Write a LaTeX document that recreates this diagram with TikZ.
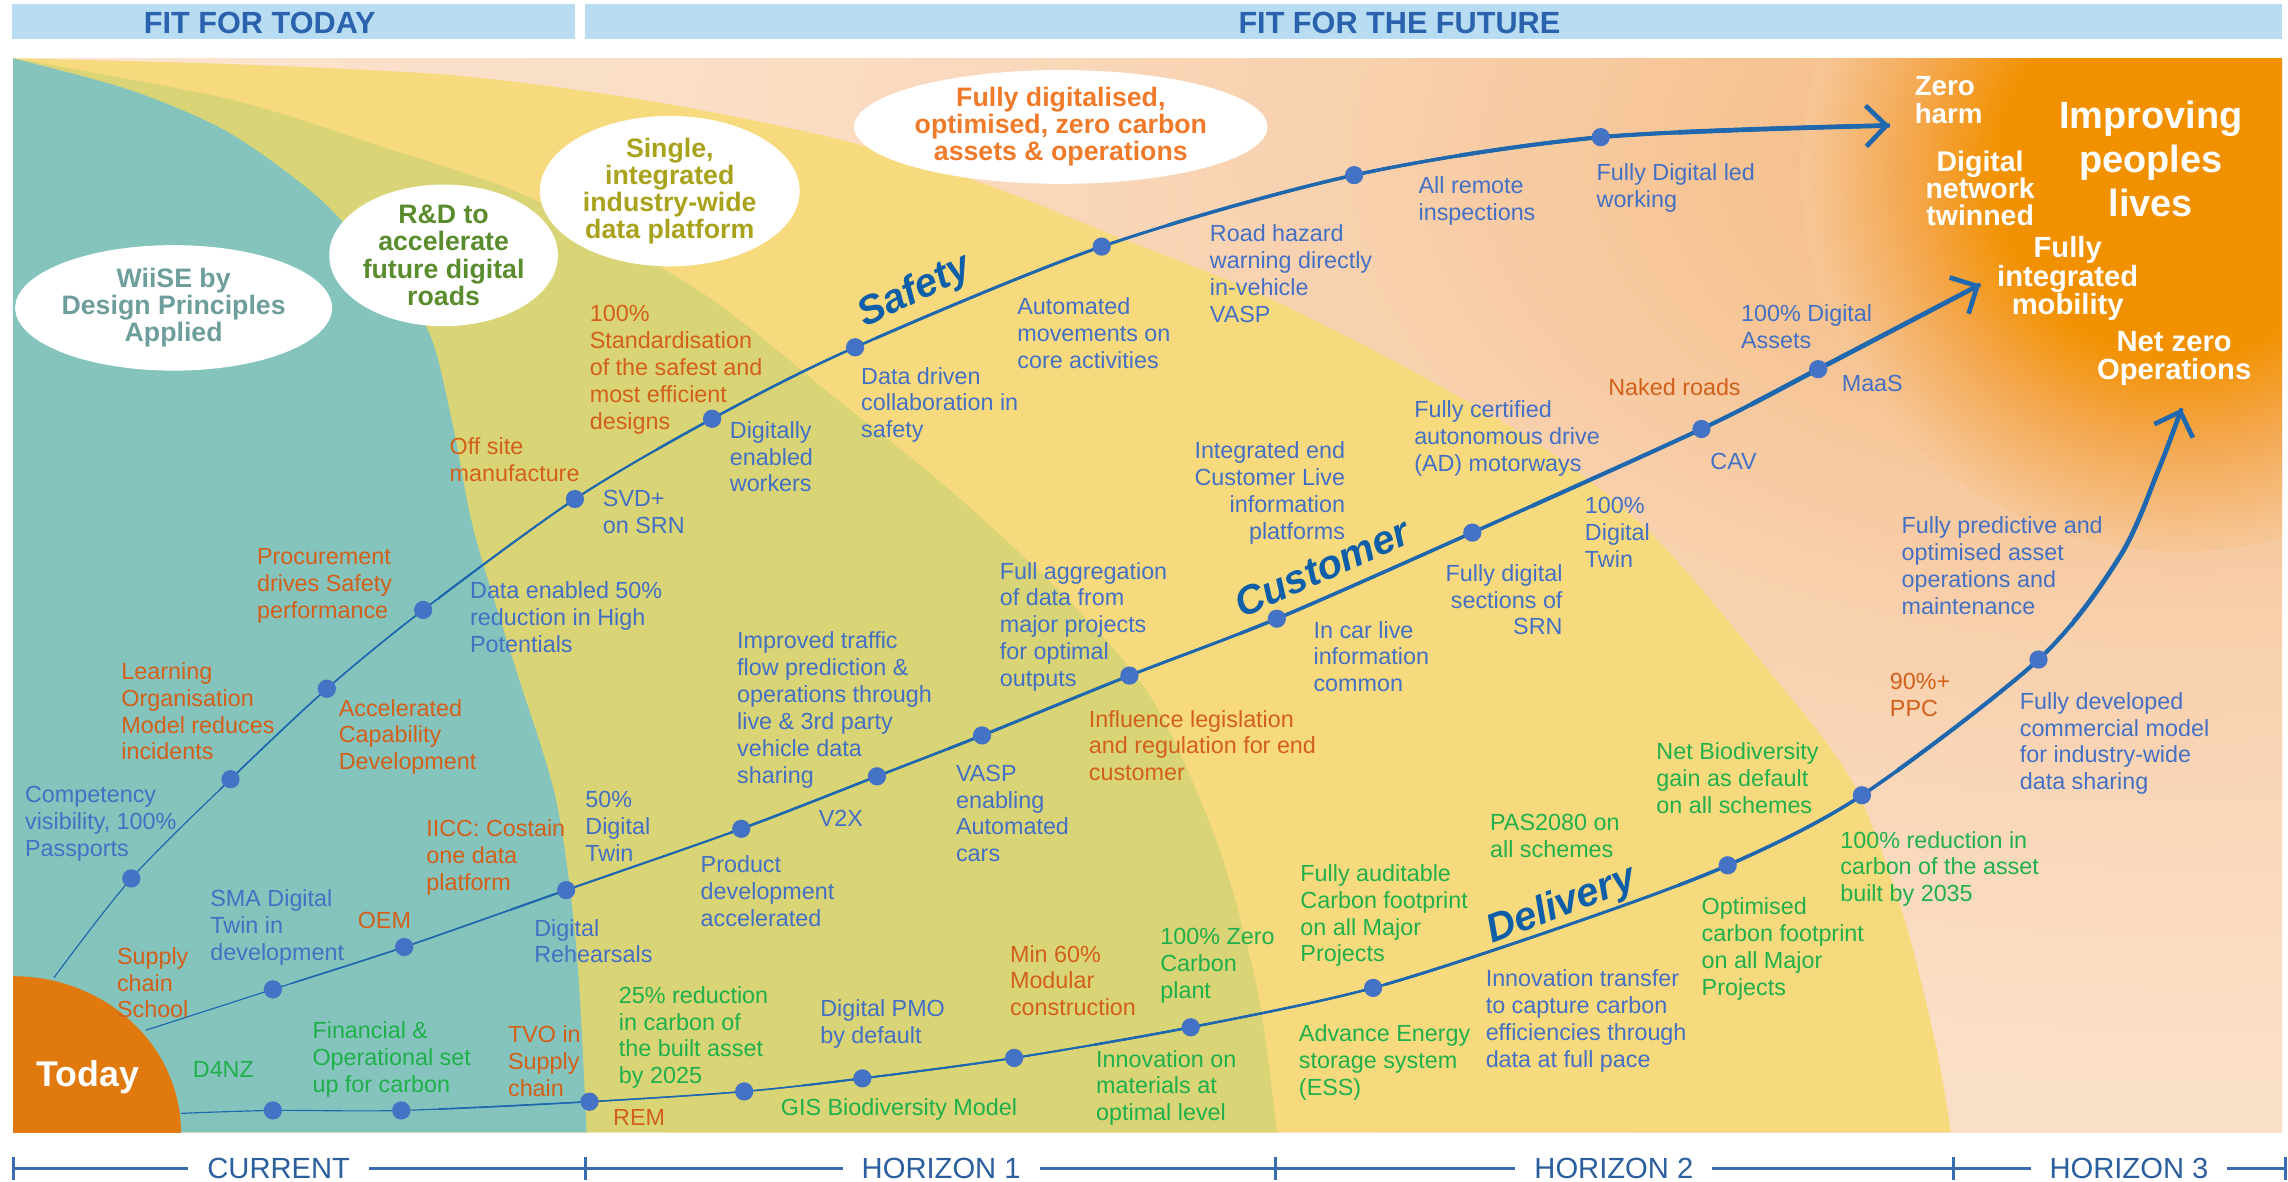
\documentclass[tikz,border=0pt]{standalone}
\usepackage{fontspec}
\setmainfont{Liberation Sans}
\usetikzlibrary{arrows.meta,shapes.geometric}
\definecolor{hdrbar}{HTML}{B8DDF2}
\definecolor{hdrtext}{HTML}{2B62AE}
\definecolor{cteal}{HTML}{84C4BC}
\definecolor{colive}{HTML}{D9D476}
\definecolor{cyellow}{HTML}{F8DA7E}
\definecolor{corange}{HTML}{F29100}
\definecolor{coreB}{HTML}{F4A850}
\definecolor{coreE}{HTML}{F6C594}
\definecolor{gA}{HTML}{F4B072}
\definecolor{gB}{HTML}{F6C290}
\definecolor{gC}{HTML}{F8D0AC}
\definecolor{gD}{HTML}{FADCC2}
\definecolor{gE}{HTML}{FBE5D3}
\definecolor{gF}{HTML}{FCEBDE}
\definecolor{ctoday}{HTML}{E07A0F}
\definecolor{lblue}{HTML}{4470C4}
\definecolor{lorange}{HTML}{D2601A}
\definecolor{lgreen}{HTML}{20B04B}
\definecolor{curvec}{HTML}{1F68AE}
\definecolor{dotc}{HTML}{4472C4}
\definecolor{streamc}{HTML}{0E5EA8}
\definecolor{tline}{HTML}{3A6DB0}
\definecolor{tlabel}{HTML}{2C5F9E}
\definecolor{wiise}{HTML}{6E9E9C}
\definecolor{rdg}{HTML}{5A8C2E}
\definecolor{singl}{HTML}{A8A21C}
\definecolor{fdo}{HTML}{EE7A2A}
% in TikZ, 25bp of a radial shading = the radius of the shaded path
\pgfdeclareradialshading{glow}{\pgfpoint{0bp}{0bp}}{color(0bp)=(gA); color(4.5bp)=(gB); color(9bp)=(gC); color(15bp)=(gD); color(24bp)=(gE); color(37bp)=(gF); color(50bp)=(gF)}
\pgfdeclareradialshading{coreglow}{\pgfpoint{0bp}{0bp}}{color(0bp)=(corange); color(12bp)=(corange); color(18bp)=(coreB); color(24.5bp)=(coreE); color(50bp)=(coreE)}
\newcommand\safetyline{plot[smooth] coordinates {(s0) (s1) (s2) (s3) (s4) (s5) (s6) (s7) (s8) (s9) (s10) (send)}}
\newcommand\customerline{plot[smooth] coordinates {(c0) (c1) (c2) (c3) (c4) (c5) (c6) (c7) (c8) (c9) (c10) (c11) (cend)}}
\newcommand\deliveryline{plot[smooth] coordinates {(d0) (d1) (d2) (d3) (d4) (d5) (d6) (d7) (d8) (dm) (d9) (d10) (d11) (dma) (dmb) (dend)}}
\begin{document}
\begin{tikzpicture}[x=1pt,y=-1pt,
  lbl/.style={inner sep=0pt, align=left, anchor=west, font=\fontsize{16}{18.4}\selectfont},
  lb/.style={lbl, text=lblue},
  lbr/.style={lb, align=right, anchor=east},
  lo/.style={lbl, text=lorange},
  lg/.style={lbl, text=lgreen},
  dot/.style={circle, fill=dotc, inner sep=0pt, minimum size=12.5pt},
  bubble/.style={ellipse, fill=white, inner sep=0pt, align=center, font=\bfseries\fontsize{18.3}{18.6}\selectfont},
  wt/.style={text=white, inner sep=0pt, align=center},
  stream/.style={text=streamc, inner sep=0pt, font=\bfseries\itshape\fontsize{27.5}{27.5}\selectfont},
  tlab/.style={fill=white, text=tlabel, inner xsep=13pt, inner ysep=2pt, font=\fontsize{20}{20}\selectfont},
  hdr/.style={text=hdrtext, inner sep=0pt, font=\bfseries\fontsize{21}{21}\selectfont},
  curveline/.style={draw=curvec, line cap=butt}
]
\useasboundingbox (0,0) rectangle (1568,810);
\fill[white] (0,0) rectangle (1568,810);
% header bars
\node[fill=hdrbar, minimum width=386pt, minimum height=24pt, inner sep=0pt] (barA) at (201,15) {};
\node[fill=hdrbar, minimum width=1163pt, minimum height=24pt, inner sep=0pt] (barB) at (982.5,15) {};
\node[hdr] (hA) at (178,16) {FIT FOR TODAY};
\node[hdr] (hB) at (959,16) {FIT FOR THE FUTURE};
% panel
\begin{scope}
\clip (9,40) rectangle (1564,776);
\fill[gF] (9,40) rectangle (1564,776);
\shade[shading=glow] (1500,110) ellipse [x radius=1550pt, y radius=900pt];
\shade[shading=coreglow] (1494,118) circle [radius=260pt];
\fill[cyellow] (9,776) -- plot[smooth] coordinates {(9,40) (160,44) (315,52) (450,70) (577,96) (680,128) (760,160) (860,200) (960,250) (1055,305) (1131,365) (1210,457) (1269,535) (1304,626) (1327,718) (1337,776)} -- cycle;
\fill[colive] (9,776) -- plot[smooth] coordinates {(9,40) (157,68) (260,100) (362,135) (480,200) (574,274) (650,335) (732,411) (790,480) (835,580) (862,680) (875,776)} -- cycle;
\fill[cteal] (9,776) -- plot[smooth] coordinates {(9,40) (90,62) (157,91) (220,137) (262,185) (294,228) (310,290) (325,365) (353,457) (381,548) (395,650) (402,776)} -- cycle;
\fill[ctoday] (9,776) ellipse [x radius=115pt, y radius=107pt];
\end{scope}
\node[font=\bfseries\fontsize{24.5}{25}\selectfont, text=white, inner sep=0pt] (today) at (60,738) {Today};
% bubbles
\node[bubble, minimum width=167pt, minimum height=86pt, text=wiise] (bwiise) at (119,211) {WiiSE by\\Design Principles\\Applied};
\node[bubble, minimum width=126pt, minimum height=80pt, text=rdg] (brd) at (304,175) {R\&D to\\accelerate\\future digital\\roads};
\node[bubble, minimum width=178pt, minimum height=86pt, text=singl] (bsingle) at (459,131) {Single,\\integrated\\industry-wide\\data platform};
\node[bubble, minimum width=238pt, minimum height=78pt, text=fdo] (bfully) at (727,87) {Fully digitalised,\\optimised, zero carbon\\assets \& operations};
% right-hand outcomes
\node[wt, align=left, anchor=west, font=\bfseries\fontsize{19}{19}\selectfont] (zh) at (1312,68.5) {Zero\\harm};
\node[wt, font=\bfseries\fontsize{26}{30}\selectfont] (ipl) at (1474,109) {Improving\\peoples\\lives};
\node[wt, font=\bfseries\fontsize{19.5}{18.3}\selectfont] (dnt) at (1357,129) {Digital\\network\\twinned};
\node[wt, font=\bfseries\fontsize{20}{18.6}\selectfont] (fim) at (1417,191) {Fully\\integrated\\mobility};
\node[wt, font=\bfseries\fontsize{20}{19}\selectfont] (nzo) at (1490,245.5) {Net zero\\Operations};
% curve coordinates
\coordinate (s0) at (37,670); \coordinate (s1) at (90,602); \coordinate (s2) at (158,534);
\coordinate (s3) at (224,472); \coordinate (s4) at (290,418); \coordinate (s5) at (394,342);
\coordinate (s6) at (488,287); \coordinate (s7) at (586,238); \coordinate (s8) at (755,169);
\coordinate (s9) at (928,120); \coordinate (s10) at (1097,94); \coordinate (send) at (1295,86);
\coordinate (c0) at (100,706); \coordinate (c1) at (187,678); \coordinate (c2) at (277,649);
\coordinate (c3) at (388,610); \coordinate (c4) at (508,568); \coordinate (c5) at (601,532);
\coordinate (c6) at (673,504); \coordinate (c7) at (774,463); \coordinate (c8) at (875,424);
\coordinate (c9) at (1009,365); \coordinate (c10) at (1166,294); \coordinate (c11) at (1246,253);
\coordinate (cend) at (1357,195);
\coordinate (d0) at (124,763); \coordinate (d1) at (187,761); \coordinate (d2) at (275,761);
\coordinate (d3) at (404,755); \coordinate (d4) at (510,748); \coordinate (d5) at (591,739);
\coordinate (d6) at (695,725); \coordinate (d7) at (816,704); \coordinate (d8) at (941,677);
\coordinate (dm) at (1077,633); \coordinate (d9) at (1184,593); \coordinate (d10) at (1276,545);
\coordinate (d11) at (1397,452); \coordinate (dma) at (1453,381); \coordinate (dmb) at (1480,320);
\coordinate (dend) at (1495,280);
% tapered curves
\foreach \xa/\w in {0/0.8,150/1.1,300/1.4,450/1.7,600/2.0,800/2.4,1000/2.8}{
  \begin{scope}\clip (\xa,0) rectangle (1568,810); \draw[curveline, line width=\w pt] \safetyline; \end{scope}}
\begin{scope}\clip (1150,0) rectangle (1568,810);
\draw[curveline, line width=3.2pt, -{Straight Barb[length=14pt,width=28pt]}] \safetyline;
\end{scope}
\foreach \xa/\w in {0/0.8,200/1.1,350/1.4,500/1.7,650/2.0,850/2.4,1050/2.8}{
  \begin{scope}\clip (\xa,0) rectangle (1568,810); \draw[curveline, line width=\w pt] \customerline; \end{scope}}
\begin{scope}\clip (1200,0) rectangle (1568,810);
\draw[curveline, line width=3.2pt, -{Straight Barb[length=14pt,width=28pt]}] \customerline;
\end{scope}
\foreach \xa/\w in {0/0.8,300/1.1,550/1.4,750/1.7,950/2.0,1150/2.4,1300/2.8}{
  \begin{scope}\clip (\xa,0) rectangle (1568,810); \draw[curveline, line width=\w pt] \deliveryline; \end{scope}}
\begin{scope}\clip (1420,0) rectangle (1568,810);
\draw[curveline, line width=3.2pt, -{Straight Barb[length=14pt,width=28pt]}] \deliveryline;
\end{scope}
% dots
\foreach \p in {s1,s2,s3,s4,s5,s6,s7,s8,s9,s10,c1,c2,c3,c4,c5,c6,c7,c8,c9,c10,c11,d1,d2,d3,d4,d5,d6,d7,d8,d9,d10,d11}{
  \node[dot] (dot-\p) at (\p) {};}
% stream labels
\node[stream, rotate=26] (tsafety) at (627,200) {Safety};
\node[stream, rotate=24] (tcustomer) at (906,389) {Customer};
\node[stream, rotate=21] (tdelivery) at (1070,621) {Delivery};
% safety labels
\node[lb] (l01) at (17,564.5) {Competency\\visibility, 100\%\\Passports};
\node[lo] (l02) at (83,487.5) {Learning\\Organisation\\Model reduces\\incidents};
\node[lo] (l03) at (232,505) {Accelerated\\Capability\\Development};
\node[lo] (l04) at (176,401.5) {Procurement\\drives Safety\\performance};
\node[lb] (l05) at (322,423) {Data enabled 50\%\\reduction in High\\Potentials};
\node[lo] (l06) at (308,315) {Off site\\manufacture};
\node[lb] (l07) at (413,351) {SVD+\\on SRN};
\node[lo] (l08) at (404,253.5) {100\%\\Standardisation\\of the safest and\\most efficient\\designs};
\node[lb] (l09) at (500,313) {Digitally\\enabled\\workers};
\node[lb] (l10) at (590,277.5) {Data driven\\collaboration in\\safety};
\node[lb] (l11) at (697,228.5) {Automated\\movements on\\core activities};
\node[lb] (l12) at (829,187.5) {Road hazard\\warning directly\\in-vehicle\\VASP};
\node[lb] (l13) at (972,138) {All remote\\inspections};
\node[lb] (l14) at (1094,129) {Fully Digital led\\working};
% customer labels
\node[lo] (l15) at (80,673.5) {Supply\\chain\\School};
\node[lb] (l16) at (144,635.5) {SMA Digital\\Twin in\\development};
\node[lo] (l17) at (245,631) {OEM};
\node[lo] (l18) at (292,587.5) {IICC: Costain\\one data\\platform};
\node[lb] (l19) at (401,566.5) {50\%\\Digital\\Twin};
\node[lb] (l20) at (366,645) {Digital\\Rehearsals};
\node[lb] (l21) at (480,610.5) {Product\\development\\accelerated};
\node[lb] (l22) at (505,486.5) {Improved traffic\\flow prediction \&\\operations through\\live \& 3rd party\\vehicle data\\sharing};
\node[lb] (l23) at (561,561) {V2X};
\node[lb] (l24) at (655,557.5) {VASP\\enabling\\Automated\\cars};
\node[lb] (l25) at (685,429.5) {Full aggregation\\of data from\\major projects\\for optimal\\outputs};
\node[lo] (l26) at (746,511) {Influence legislation\\and regulation for end\\customer};
\node[lb] (l27) at (900,450) {In car live\\information\\common};
\node[lbr] (l28) at (922,338) {Integrated end\\Customer Live\\information\\platforms};
\node[lb] (l29) at (969,300.5) {Fully certified\\autonomous drive\\(AD) motorways};
\node[lbr] (l30) at (1071,411) {Fully digital\\sections of\\SRN};
\node[lb] (l31) at (1086,365) {100\%\\Digital\\Twin};
\node[lo] (l32) at (1102,265) {Naked roads};
\node[lb] (l33) at (1172,316) {CAV};
\node[lb] (l34) at (1193,224) {100\% Digital\\Assets};
\node[lb] (l35) at (1262,263) {MaaS};
% delivery labels
\node[lg] (l36) at (132,733) {D4NZ};
\node[lg] (l37) at (214,726) {Financial \&\\Operational set\\up for carbon};
\node[lo] (l38) at (348,727) {TVO in\\Supply\\chain};
\node[lo] (l39) at (420,766) {REM};
\node[lg] (l40) at (424,711) {25\% reduction\\in carbon of\\the built asset\\by 2025};
\node[lb] (l41) at (562,702) {Digital PMO\\by default};
\node[lg] (l42) at (535,760) {GIS Biodiversity Model};
\node[lo] (l43) at (692,672) {Min 60\%\\Modular\\construction};
\node[lg] (l44) at (795,662) {100\% Zero\\Carbon\\plant};
\node[lg] (l45) at (751,745.5) {Innovation on\\materials at\\optimal level};
\node[lg] (l46) at (891,627.5) {Fully auditable\\Carbon footprint\\on all Major\\Projects};
\node[lg] (l47) at (890,728) {Advance Energy\\storage system\\(ESS)};
\node[lg] (l48) at (1021,573) {PAS2080 on\\all schemes};
\node[lg] (l49) at (1135,533.5) {Net Biodiversity\\gain as default\\on all schemes};
\node[lb] (l50) at (1018,699.5) {Innovation transfer\\to capture carbon\\efficiencies through\\data at full pace};
\node[lg] (l51) at (1166,650.5) {Optimised\\carbon footprint\\on all Major\\Projects};
\node[lg] (l52) at (1261,595.5) {100\% reduction in\\carbon of the asset\\built by 2035};
\node[lo] (l53) at (1295,476.5) {90\%+\\PPC};
\node[lb] (l54) at (1384,509.5) {Fully developed\\commercial model\\for industry-wide\\data sharing};
\node[lb] (l55) at (1303,387.5) {Fully predictive and\\optimised asset\\operations and\\maintenance};
% timeline
\coordinate (tk0) at (9,801); \coordinate (tk1) at (401,801); \coordinate (tk2) at (874,801);
\coordinate (tk3) at (1339,801); \coordinate (tk4) at (1566,801);
\draw[tline, line width=2.2pt] (tk0) -- (tk4);
\foreach \t in {tk0,tk1,tk2,tk3,tk4}{\draw[tline, line width=2pt] ([yshift=-8pt]\t) -- ([yshift=8pt]\t);}
\node[tlab] (tcur) at (191,801) {CURRENT};
\node[tlab] (th1) at (645,801) {HORIZON 1};
\node[tlab] (th2) at (1106,801) {HORIZON 2};
\node[tlab] (th3) at (1459,801) {HORIZON 3};
\end{tikzpicture}
\end{document}
